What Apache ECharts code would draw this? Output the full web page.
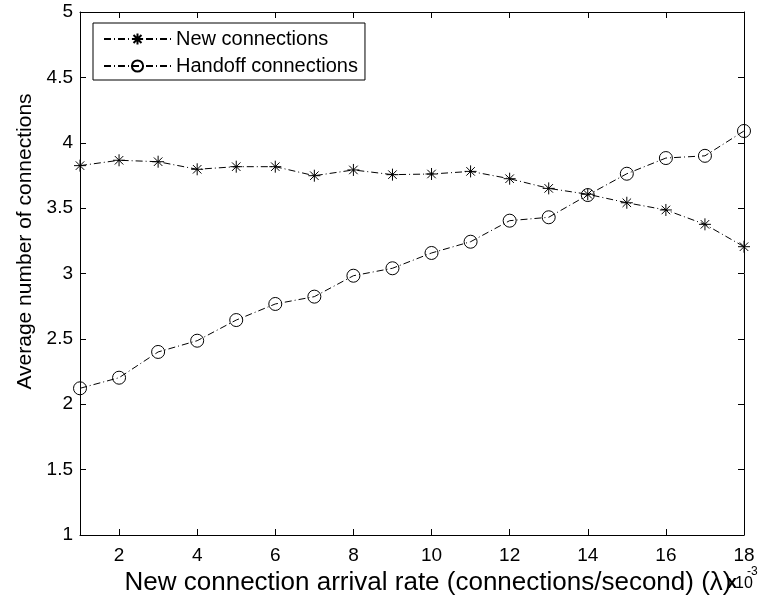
<!DOCTYPE html>
<html>
<head>
<meta charset="utf-8">
<script src="https://cdn.jsdelivr.net/npm/echarts@6/dist/echarts.min.js"></script>
<style>
html,body{margin:0;padding:0;background:#fff;}
#c{width:758px;height:601px;}
</style>
</head>
<body>
<div id="c"></div>
<script>
var xValues = [1,2,3,4,5,6,7,8,9,10,11,12,13,14,15,16,17,18];
var newConnections = [3.825,3.866,3.855,3.797,3.817,3.817,3.748,3.792,3.756,3.761,3.781,3.725,3.651,3.606,3.541,3.486,3.376,3.205];
var handoffConnections = [2.122,2.203,2.400,2.486,2.644,2.767,2.823,2.983,3.040,3.157,3.243,3.404,3.430,3.600,3.763,3.883,3.900,4.090];
var xTicks = [2,4,6,8,10,12,14,16,18];
var yTicks = [1,1.5,2,2.5,3,3.5,4,4.5,5];
var seriesNames = ['New connections','Handoff connections'];
var xTitle = 'New connection arrival rate (connections/second) (\u03bb)';
var yTitle = 'Average number of connections';

var FONT = '"Liberation Sans", Arial, Helvetica, sans-serif';
var asterisk = 'path://M5,0L5,10M0,5L10,5M1.46,1.46L8.54,8.54M1.46,8.54L8.54,1.46';
var dashDot = [7,3,1,3];

function pairs(vals){ return xValues.map(function(x,i){ return [x, vals[i]]; }); }

var chart = echarts.init(document.getElementById('c'), null, {renderer:'canvas'});
var axisLineStyle = {color:'#000', width:1};
chart.setOption({
  animation:false,
  backgroundColor:'#fff',
  grid:{left:80, right:14, top:12, bottom:66, containLabel:false},
  xAxis:[{
    type:'value', min:1, max:18, position:'bottom',
    axisLine:{show:true, onZero:false, lineStyle:axisLineStyle},
    axisTick:{show:true, inside:true, length:6, lineStyle:axisLineStyle, customValues:xTicks},
    axisLabel:{show:true, customValues:xTicks, color:'#000', fontFamily:FONT, fontSize:19, margin:11},
    splitLine:{show:false},
    name:xTitle, nameLocation:'middle', nameGap:31,
    nameTextStyle:{color:'#000', fontFamily:FONT, fontSize:26, padding:[0,0,0,32]}
  },{
    type:'value', min:1, max:18, position:'top',
    axisLine:{show:true, onZero:false, lineStyle:axisLineStyle},
    axisTick:{show:true, inside:true, length:6, lineStyle:axisLineStyle, customValues:xTicks},
    axisLabel:{show:false},
    splitLine:{show:false}
  }],
  yAxis:[{
    type:'value', min:1, max:5, interval:0.5, position:'left',
    axisLine:{show:true, onZero:false, lineStyle:axisLineStyle},
    axisTick:{show:true, inside:true, length:6, lineStyle:axisLineStyle},
    axisLabel:{show:true, color:'#000', fontFamily:FONT, fontSize:19, margin:7,
      formatter:function(v){ return String(v); }},
    splitLine:{show:false},
    name:yTitle, nameLocation:'middle', nameGap:29,
    nameTextStyle:{color:'#000', fontFamily:FONT, fontSize:21, padding:[0,0,0,64]}
  },{
    type:'value', min:1, max:5, interval:0.5, position:'right',
    axisLine:{show:true, onZero:false, lineStyle:axisLineStyle},
    axisTick:{show:true, inside:true, length:6, lineStyle:axisLineStyle},
    axisLabel:{show:false},
    splitLine:{show:false}
  }],
  legend:{
    show:true, orient:'vertical', left:93, top:23,
    backgroundColor:'#fff', borderColor:'#000', borderWidth:1, borderRadius:0,
    padding:[6,7,4,10], itemGap:7, itemWidth:67, itemHeight:14,
    textStyle:{color:'#000', fontFamily:FONT, fontSize:20, lineHeight:20, padding:[0,0,0,0]},
    data:seriesNames
  },
  series:[{
    name:seriesNames[0], type:'line', xAxisIndex:0, yAxisIndex:0,
    data:pairs(newConnections),
    symbol:asterisk, symbolSize:12, showAllSymbol:true,
    itemStyle:{color:'rgba(0,0,0,0)', borderColor:'#000', borderWidth:1},
    lineStyle:{color:'#000', width:1, type:dashDot},
    emphasis:{disabled:true}, z:3
  },{
    name:seriesNames[1], type:'line', xAxisIndex:0, yAxisIndex:0,
    data:pairs(handoffConnections),
    symbol:'circle', symbolSize:13, showAllSymbol:true,
    itemStyle:{color:'rgba(0,0,0,0)', borderColor:'#000', borderWidth:1},
    lineStyle:{color:'#000', width:1, type:dashDot},
    emphasis:{disabled:true}, z:2
  }],
  graphic:[{
    type:'text', x:727, y:574, z:100,
    style:{text:'x', fill:'#000', font:'bold 18px sans-serif'}
  },{
    type:'text', x:735, y:576, z:100,
    style:{text:'10', fill:'#000', font:'16px sans-serif'}
  },{
    type:'text', x:747, y:566, z:100,
    style:{text:'-3', fill:'#000', font:'12px sans-serif'}
  }]
});
</script>
</body>
</html>
